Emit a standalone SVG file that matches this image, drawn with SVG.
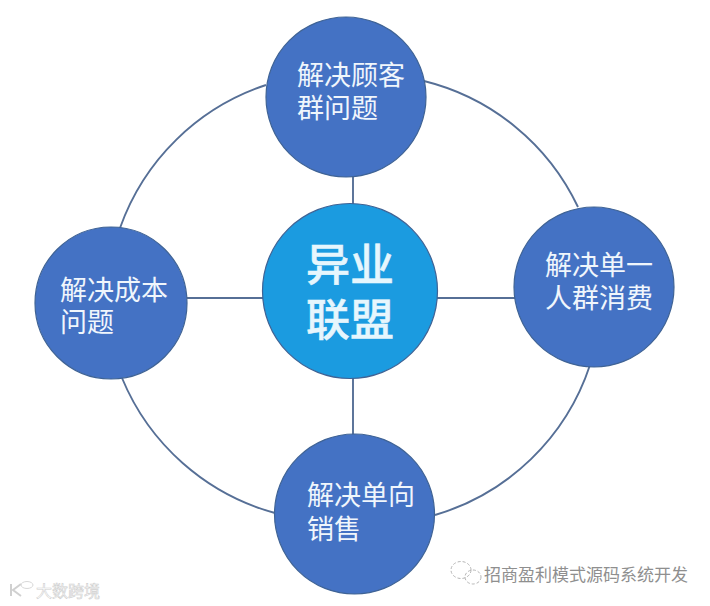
<svg xmlns="http://www.w3.org/2000/svg" width="710" height="606" viewBox="0 0 710 606">
<style>
.c{stroke:#566f96;stroke-width:1.9;fill:none}
.n{fill:#4472c4;stroke:#3f6395;stroke-width:1.2}
.t{font-family:"Liberation Sans","Noto Sans CJK SC",sans-serif;font-size:27px;fill:#f0f6fc}
.b{font-family:"Liberation Sans","Noto Sans CJK SC",sans-serif;font-size:44px;font-weight:500;fill:#e6f6fd;stroke:#e6f6fd;stroke-width:.5}
.w{font-family:"Liberation Sans","Noto Sans CJK SC",sans-serif}
</style>
<rect width="710" height="606" fill="#fff"/>
<g id="connectors">
<path class="c" d="M120 228A232 232 0 0 1 266 85"/>
<path class="c" d="M424 81A232 232 0 0 1 578 207"/>
<path class="c" d="M590 365A232 232 0 0 1 435 515"/>
<path class="c" d="M122 378A232 232 0 0 0 275 513"/>
<path class="c" d="M353 176V204"/>
<path class="c" d="M353 378V435"/>
<path class="c" d="M187 298H264"/>
<path class="c" d="M436 298H515"/>
</g>
<g id="node-top"><circle class="n" cx="346" cy="97" r="80"/><text class="t" x="297" y="85">解决顾客</text><text class="t" x="297" y="118">群问题</text></g>
<g id="node-right"><circle class="n" cx="594" cy="287" r="80"/><text class="t" x="545" y="275">解决单一</text><text class="t" x="545" y="308">人群消费</text></g>
<g id="node-bottom"><circle class="n" cx="354.5" cy="514" r="80"/><text class="t" x="307" y="505">解决单向</text><text class="t" x="307" y="539">销售</text></g>
<g id="node-left"><circle class="n" cx="111" cy="303" r="76"/><text class="t" x="60" y="300">解决成本</text><text class="t" x="60" y="332">问题</text></g>
<g id="node-center"><circle cx="350" cy="291" r="87.5" fill="#1b9be0" stroke="#3f6395" stroke-width="1.2"/><text class="b" x="306" y="281">异业</text><text class="b" x="306" y="336">联盟</text></g>
<g id="watermarks">
<path d="M11 584V596M21 584L13 590L21 596" fill="none" stroke="#d0d0d0" stroke-width="2"/>
<ellipse cx="27" cy="585" rx="6" ry="3.5" fill="none" stroke="#d8d8d8"/>
<text class="w" x="36" y="597" font-size="16" fill="#fff" stroke="#cfcfcf" stroke-width=".6">大数跨境</text>
<g fill="none" stroke="#b5b5b5" stroke-width="1" stroke-dasharray="3 2"><ellipse cx="461" cy="570" rx="10" ry="8.5"/><ellipse cx="473" cy="577" rx="8" ry="7"/></g>
<text class="w" x="484" y="581" font-size="17" fill="#8f8f8f">招商盈利模式源码系统开发</text>
</g>
</svg>
